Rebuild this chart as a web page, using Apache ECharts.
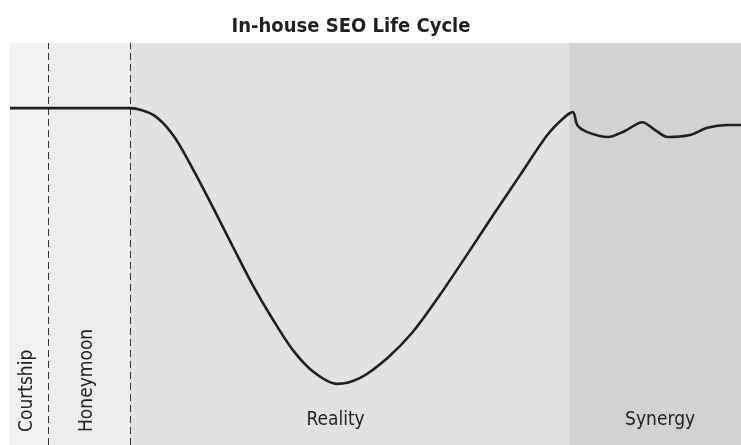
<!DOCTYPE html>
<html>
<head>
<meta charset="utf-8">
<title>In-house SEO Life Cycle</title>
<script src="https://cdn.jsdelivr.net/npm/echarts@6/dist/echarts.min.js"></script>
<style>
  html, body { margin: 0; padding: 0; background: #ffffff; }
  #chart { width: 741px; height: 445px; }
</style>
</head>
<body>
<div id="chart"></div>
<script>
// Phase boundaries along the time axis (0–100)
const phaseNames = ['Courtship', 'Honeymoon', 'Reality', 'Synergy'];
const phaseStarts = [0, 5.2, 16.4, 76.5];
const phaseEnds = [5.2, 16.4, 76.5, 100];
const phaseColors = ['#f1f2f3', '#ecedee', '#e1e2e4', '#d1d2d4'];
// Horizontal nudges for the phase names (pixels)
const labelShift = [-2, -2, -14, 5];

// Morale curve: time (x) and level (y), both on 0–100 scales
const timeValues = [0, 5.2, 14.0, 16.4, 19.6, 22.3, 25.0, 27.8, 30.5, 33.2, 36.0, 38.7, 41.5, 44.7,
  47.9, 51.6, 55.1, 58.8, 62.5, 66.1, 69.8, 73.5, 75.7, 77.0, 77.6, 78.9,
  81.8, 84.1, 86.5, 88.2, 90.0, 93.0, 95.4, 98.1, 100];
const levelValues = [83.8, 83.8, 83.8, 83.8, 82.1, 77.1, 68.7, 59.0, 49.3, 39.8, 31.1, 23.6, 18.2, 15.2,
  16.7, 21.6, 28.1, 37.3, 47.3, 57.2, 67.2, 77.1, 81.3, 82.8, 79.6, 77.9,
  76.6, 78.1, 80.3, 78.4, 76.6, 77.1, 78.9, 79.6, 79.6];

const FONT = '"Liberation Sans Narrow", "DejaVu Sans Condensed", Roboto, sans-serif';

const chart = echarts.init(document.getElementById('chart'), null, { renderer: 'canvas' });

const curve = timeValues.map((t, i) => [t, levelValues[i]]);

const bands = phaseNames.map((name, i) => [
  { xAxis: phaseStarts[i], itemStyle: { color: phaseColors[i] } },
  { xAxis: phaseEnds[i] }
]);

const option = {
  backgroundColor: '#ffffff',
  animation: false,
  title: {
    text: 'In-house SEO Life Cycle',
    left: 346,
    top: 12,
    textAlign: 'center',
    textStyle: { fontFamily: FONT, fontWeight: 'bold', fontSize: 20, color: '#231f20' }
  },
  grid: { left: 10, right: 0, top: 43, bottom: 0 },
  xAxis: {
    type: 'value', min: 0, max: 100,
    show: false, splitLine: { show: false }
  },
  yAxis: {
    type: 'value', min: 0, max: 100,
    show: false, splitLine: { show: false }
  },
  series: [{
    type: 'line',
    data: curve,
    smooth: 0.3,
    showSymbol: false,
    symbol: 'none',
    lineStyle: { color: '#231f20', width: 2.6 },
    z: 5,
    markArea: {
      silent: true,
      label: { show: false },
      data: bands
    },
    markLine: {
      silent: true,
      symbol: 'none',
      label: { show: false },
      lineStyle: { color: '#333333', width: 1, type: [7, 4] },
      data: [{ xAxis: phaseEnds[0] }, { xAxis: phaseEnds[1] }]
    }
  }]
};

chart.setOption(option);

// Phase names: the two narrow phases get vertical labels, the wide ones horizontal
const baseY = chart.convertToPixel({ gridIndex: 0 }, [0, 0])[1];
const labels = phaseNames.map((name, i) => {
  const x0 = chart.convertToPixel({ gridIndex: 0 }, [phaseStarts[i], 0])[0];
  const x1 = chart.convertToPixel({ gridIndex: 0 }, [phaseEnds[i], 0])[0];
  const cx = (x0 + x1) / 2 + labelShift[i];
  if (i < 2) {
    return {
      type: 'text',
      x: cx,
      y: baseY - 13,
      rotation: Math.PI / 2,
      style: {
        text: name, fontFamily: FONT, fontSize: 19, fill: '#231f20',
        align: 'left', verticalAlign: 'middle'
      },
      z: 10
    };
  }
  return {
    type: 'text',
    x: cx,
    y: baseY - 25,
    style: {
      text: name, fontFamily: FONT, fontSize: 19, fill: '#231f20',
      align: 'center', verticalAlign: 'middle'
    },
    z: 10
  };
});

chart.setOption({ graphic: labels });
</script>
</body>
</html>
